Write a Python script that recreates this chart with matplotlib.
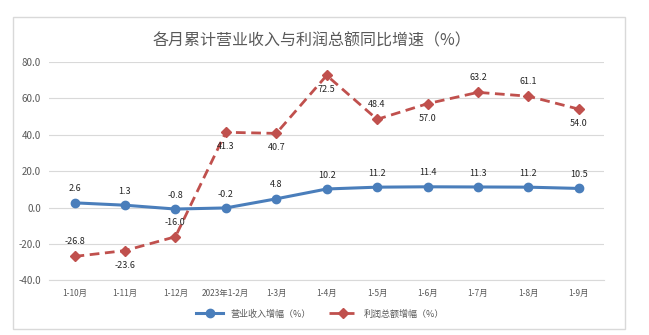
import matplotlib
matplotlib.use("Agg")
import matplotlib.pyplot as plt
from matplotlib.patches import Rectangle

plt.rcParams['font.family'] = ['Noto Sans CJK SC', 'DejaVu Sans']

months = ['1-10月', '1-11月', '1-12月', '2023年1-2月', '1-3月', '1-4月',
          '1-5月', '1-6月', '1-7月', '1-8月', '1-9月']
revenue = [2.6, 1.3, -0.8, -0.2, 4.8, 10.2, 11.2, 11.4, 11.3, 11.2, 10.5]
profit = [-26.8, -23.6, -16.0, 41.3, 40.7, 72.5, 48.4, 57.0, 63.2, 61.1, 54.0]
# label side for the profit series: 1 above, -1 below
profit_side = [1, -1, 1, -1, -1, -1, 1, -1, 1, 1, -1]
yticks = [-40, -20, 0, 20, 40, 60, 80]

blue = '#4a7ebb'
red = '#c0504d'
grey = '#595959'

fig = plt.figure(figsize=(6.49, 3.35), dpi=100)
fig.patches.append(Rectangle((12.5 / 649, 1 - 329 / 335), 612 / 649, 312 / 335,
                             transform=fig.transFigure, fill=False,
                             edgecolor='#d9d9d9', linewidth=1))

ax = fig.add_axes([0.076, 0.1627, 0.8547, 0.653])
x = range(len(months))

ax.plot(x, revenue, color=blue, linewidth=2.2, marker='o', markersize=6,
        label='营业收入增幅（%）', zorder=3)
ax.plot(x, profit, color=red, linewidth=2, linestyle=(0, (3.5, 2)), marker='D',
        markersize=5, label='利润总额增幅（%）', zorder=3)

for i, v in enumerate(revenue):
    ax.annotate(f'{v:.1f}', (i, v), xytext=(0, 10), textcoords='offset points',
                ha='center', va='center', fontsize=6.5, color='#262626')
for i, v in enumerate(profit):
    ax.annotate(f'{v:.1f}', (i, v), xytext=(0, 10.5 * profit_side[i]),
                textcoords='offset points', ha='center', va='center',
                fontsize=6.5, color='#262626')

ax.set_xlim(-0.5, len(months) - 0.5)
ax.set_ylim(-40, 80)
ax.set_yticks(yticks)
ax.set_yticklabels([f'{t:.1f}' for t in yticks])
ax.set_xticks(list(x))
ax.set_xticklabels(months)
ax.tick_params(length=0, labelsize=6, colors=grey, pad=6)
ax.tick_params(axis='y', labelsize=7)
ax.grid(axis='y', color='#d9d9d9', linewidth=0.8)
ax.set_axisbelow(True)
for s in ['top', 'right', 'left']:
    ax.spines[s].set_visible(False)
ax.spines['bottom'].set_color('#d9d9d9')

fig.text(312 / 649, 1 - 41 / 335, '各月累计营业收入与利润总额同比增速（%）',
         ha='center', va='center', fontsize=11.5, color=grey)

fig.legend(loc='center', bbox_to_anchor=(320 / 649, 1 - 314 / 335), ncol=2,
           frameon=False, fontsize=6.5, labelcolor=grey, handlelength=3,
           columnspacing=2)

fig.savefig('out.png', dpi=100)
